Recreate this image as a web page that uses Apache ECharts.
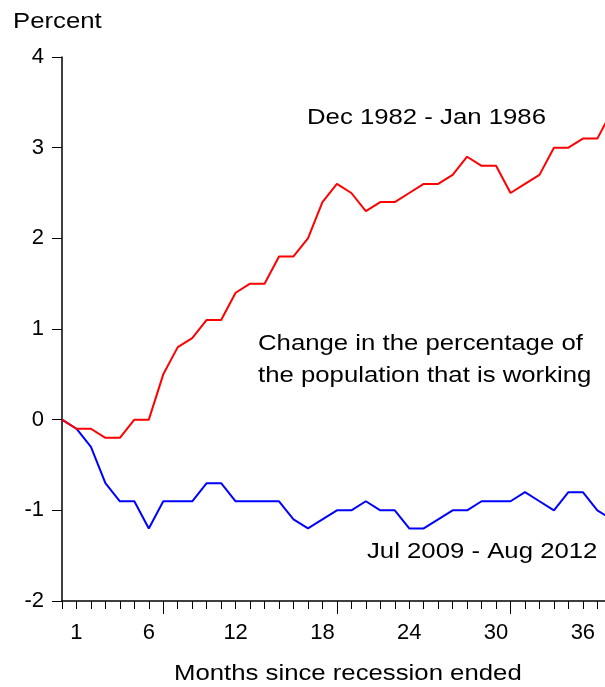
<!DOCTYPE html>
<html>
<head>
<meta charset="utf-8">
<script src="https://cdn.jsdelivr.net/npm/echarts@6/dist/echarts.min.js"></script>
<style>
  html, body { margin: 0; padding: 0; background: #fff; }
  #chart { width: 605px; height: 687px; }
</style>
</head>
<body>
<div id="chart"></div>
<script>
  // months since the recession ended
  var months = [0, 1, 2, 3, 4, 5, 6, 7, 8, 9, 10, 11, 12, 13, 14, 15, 16, 17, 18, 19,
                20, 21, 22, 23, 24, 25, 26, 27, 28, 29, 30, 31, 32, 33, 34, 35, 36, 37, 38];
  // change in employment/population ratio, percentage points
  var eighties = [0, -0.1, -0.1, -0.2, -0.2, 0, 0, 0.5, 0.8, 0.9, 1.1, 1.1, 1.4, 1.5, 1.5, 1.8, 1.8, 2.0, 2.4, 2.6,
                  2.5, 2.3, 2.4, 2.4, 2.5, 2.6, 2.6, 2.7, 2.9, 2.8, 2.8, 2.5, 2.6, 2.7, 3.0, 3.0, 3.1, 3.1, 3.4];
  var recent = [0, -0.1, -0.3, -0.7, -0.9, -0.9, -1.2, -0.9, -0.9, -0.9, -0.7, -0.7, -0.9, -0.9, -0.9, -0.9, -1.1, -1.2, -1.1, -1.0,
                -1.0, -0.9, -1.0, -1.0, -1.2, -1.2, -1.1, -1.0, -1.0, -0.9, -0.9, -0.9, -0.8, -0.9, -1.0, -0.8, -0.8, -1.0, -1.1];
  var xLabels = [1, 6, 12, 18, 24, 30, 36];
  var xMajorTicks = [7, 19, 31];

  var font = '"Liberation Sans", Arial, sans-serif';
  var chart = echarts.init(document.getElementById('chart'));

  function pairs(ys) {
    var out = [];
    for (var i = 0; i < ys.length; i++) out.push([months[i], ys[i]]);
    return out;
  }

  function label(text, x, y, extra) {
    var st = { text: text, fill: '#000', font: '22px ' + font, textVerticalAlign: 'middle' };
    if (extra) for (var k in extra) st[k] = extra[k];
    return { type: 'text', x: x, y: y, scaleX: 1.17, style: st, z: 10 };
  }

  var option = {
    backgroundColor: '#fff',
    animation: false,
    grid: { left: 62, right: 0, top: 57, bottom: 86 },
    xAxis: [
      {
        type: 'value', min: 0, max: 37.53,
        axisLine: { show: true, onZero: false, lineStyle: { color: '#000', width: 1.5 } },
        axisTick: { show: true, length: 8, customValues: months, lineStyle: { color: '#000' } },
        axisLabel: { show: false },
        splitLine: { show: false }
      },
      {
        type: 'value', min: 0, max: 37.53, position: 'bottom',
        axisLine: { show: false, onZero: false },
        axisTick: { show: true, length: 13, customValues: xMajorTicks, lineStyle: { color: '#000' } },
        axisLabel: { show: true, customValues: xLabels, margin: 21, color: '#000', fontSize: 22, fontFamily: font },
        splitLine: { show: false }
      }
    ],
    yAxis: {
      type: 'value', min: -2, max: 4, interval: 1,
      axisLine: { show: true, lineStyle: { color: '#000', width: 1.5 } },
      axisTick: { show: true, length: 10, lineStyle: { color: '#000' } },
      axisLabel: { margin: 18, color: '#000', fontSize: 22, fontFamily: font },
      splitLine: { show: false }
    },
    graphic: [
      label('Percent', 13, 22),
      label('Dec 1982 - Jan 1986', 307, 118),
      label('Change in the percentage of\nthe population that is working', 258, 360, { lineHeight: 32 }),
      label('Jul 2009 - Aug 2012', 367, 552),
      label('Months since recession ended', 174, 674)
    ],
    series: [
      {
        name: 'Jul 2009 - Aug 2012', type: 'line', data: pairs(recent),
        showSymbol: false, symbol: 'none',
        lineStyle: { color: '#0000ff', width: 2 }
      },
      {
        name: 'Dec 1982 - Jan 1986', type: 'line', data: pairs(eighties),
        showSymbol: false, symbol: 'none',
        lineStyle: { color: '#ff0000', width: 2 }
      }
    ]
  };
  chart.setOption(option);
</script>
</body>
</html>
